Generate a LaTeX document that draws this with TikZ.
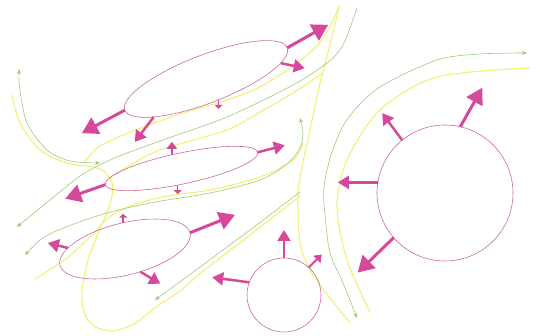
\documentclass[tikz,border=0pt]{standalone}
\usepackage{tikz}
\usepackage{xcolor}
\usetikzlibrary{arrows.meta}
\usetikzlibrary{shapes.geometric}

\definecolor{pushpink}{RGB}{214,72,154}
\definecolor{rimpink}{RGB}{200,105,158}
\definecolor{flowgreen}{RGB}{152,204,120}
\definecolor{flowyellow}{RGB}{242,240,115}

\begin{document}
\begin{tikzpicture}[x=1pt,y=-1pt,
    blob/.style={draw=rimpink,line width=.6pt,inner sep=0pt,outer sep=0pt},
    pushbig/.style={draw=pushpink,line width=3pt,-{Triangle[length=16pt,width=18pt]}},
    pushmid/.style={draw=pushpink,line width=2.5pt,-{Triangle[length=11pt,width=13pt]}},
    pushsmall/.style={draw=pushpink,line width=2pt,-{Triangle[length=7pt,width=10pt]}},
    pushtiny/.style={draw=pushpink,line width=1.5pt,-{Triangle[length=4pt,width=8pt]}},
    greenflow/.style={draw=flowgreen,line width=.6pt,>={Stealth[length=5pt,width=4pt]}},
    yellowflow/.style={draw=flowyellow,line width=1.1pt}]
  \useasboundingbox (0,0) rectangle (536,336);
  \draw[yellowflow] plot[smooth] coordinates {(12,95) (20,123) (40,150) (67,163)
    (93,167) (105,172) (112,183) (112,196) (106,215) (97,236) (88,260) (82,290)
    (84,312) (94,326) (112,331) (134,324) (156,307) (180,291) (202,272) (250,235) (300,196)};
  \draw[yellowflow] plot[smooth] coordinates {(85,161) (100,146) (133,131) (180,114)
    (227,100) (260,87) (293,66) (316,47) (330,27) (339,6)};
  \draw[yellowflow] plot[smooth] coordinates {(339,6) (332,37) (320,83) (310,130)
    (302,167) (298,196) (300,243) (310,270) (327,294) (350,323)};
  \draw[yellowflow] plot[smooth] coordinates {(110,178) (127,167) (160,150) (227,130)
    (260,112) (293,93) (323,73)};
  \draw[yellowflow] plot[smooth] coordinates {(35,279) (67,258) (93,234) (108,218)
    (130,206) (167,196) (210,190) (260,177) (293,160) (303,143)};
  \draw[yellowflow] plot[smooth] coordinates {(370,312) (347,260) (337,207) (347,160)
    (380,110) (437,77) (530,68)};

  \draw[greenflow,<->] plot[smooth] coordinates {(19,69) (20,90) (27,123) (47,150)
    (70,161) (100,163)};
  \draw[greenflow,<-] plot[smooth] coordinates {(17,227) (50,200) (83,174) (117,157)
    (160,141) (227,117) (293,85) (327,63) (343,45) (357,8)};
  \draw[greenflow,<->] plot[smooth] coordinates {(25,255) (50,234) (100,215) (150,203)
    (210,193) (260,180) (287,164) (300,148) (303,133) (300,118)};
  \draw[greenflow,<-] plot[smooth] coordinates {(155,300) (200,267) (250,230) (300,192)};
  \draw[greenflow,<->] plot[smooth] coordinates {(357,318) (343,283) (330,253) (325,215)
    (324,187) (332,152) (348,118) (380,87) (437,60) (480,54) (527,53)};

  \node[blob,ellipse,minimum width=174pt,minimum height=48pt,rotate=21] (ea) at (206,79) {};
  \node[blob,ellipse,minimum width=156pt,minimum height=31pt,rotate=12] (eb) at (181.5,168.5) {};
  \node[blob,ellipse,minimum width=134pt,minimum height=52pt,rotate=14] (ec) at (125,249) {};
  \node[blob,circle,minimum size=74pt] (cd) at (284,295) {};
  \node[blob,circle,minimum size=136pt] (ce) at (445,193) {};

  \path (ea.180) +(-43,23) coordinate (eaw);
  \draw[pushbig] (ea.180) -- (eaw);
  \path (ea.195) +(-19,25) coordinate (easw);
  \draw[pushmid] (ea.195) -- (easw);
  \path (ea.280) +(0,9) coordinate (eas);
  \draw[pushtiny] (ea.280) -- (eas);
  \path (ea.0) +(41,-23) coordinate (eae);
  \draw[pushbig] (ea.0) -- (eae);
  \path (ea.351) +(24,5) coordinate (eaes);
  \draw[pushmid] (ea.351) -- (eaes);

  \path (eb.180) +(-40,14) coordinate (ebw);
  \draw[pushbig] (eb.180) -- (ebw);
  \path (eb.113) +(0,-13) coordinate (ebn);
  \draw[pushsmall] (eb.113) -- (ebn);
  \path (eb.245) +(0,9) coordinate (ebs);
  \draw[pushtiny] (eb.245) -- (ebs);
  \path (eb.0) +(27,-7) coordinate (ebe);
  \draw[pushmid] (eb.0) -- (ebe);

  \path (ec.80) +(0,-9) coordinate (ecn);
  \draw[pushtiny] (ec.80) -- (ecn);
  \path (ec.165) +(-20,-5) coordinate (ecw);
  \draw[pushmid] (ec.165) -- (ecw);
  \path (ec.0) +(45,-18) coordinate (ece);
  \draw[pushbig] (ec.0) -- (ece);
  \path (ec.290) +(20,12) coordinate (ecs);
  \draw[pushmid] (ec.290) -- (ecs);

  \path (cd.90) +(0,-28) coordinate (cdn);
  \draw[pushmid] (cd.90) -- (cdn);
  \path (cd.160) +(-37,-5) coordinate (cdw);
  \draw[pushmid] (cd.160) -- (cdw);
  \path (cd.48) +(13,-13) coordinate (cdne);
  \draw[pushsmall] (cd.48) -- (cdne);

  \path (ce.77) +(22,-39) coordinate (cen);
  \draw[pushbig] (ce.77) -- (cen);
  \path (ce.129) +(-20,-27) coordinate (cenw);
  \draw[pushmid] (ce.129) -- (cenw);
  \path (ce.171) +(-40,0) coordinate (cew);
  \draw[pushmid] (ce.171) -- (cew);
  \path (ce.221) +(-36,35) coordinate (cesw);
  \draw[pushbig] (ce.221) -- (cesw);
\end{tikzpicture}
\end{document}
